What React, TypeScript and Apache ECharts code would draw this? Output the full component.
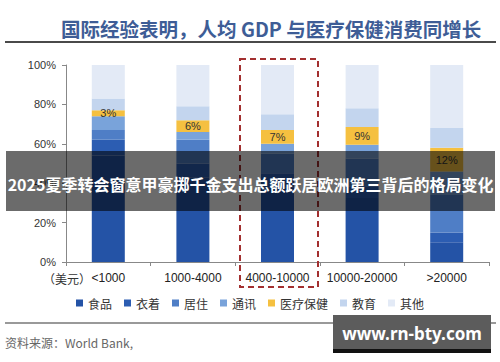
import React, { useEffect, useRef } from "react";
import * as echarts from "echarts";

const categories = ["<1000", "1000-4000", "4000-10000", "10000-20000", ">20000"];
const seriesNames = ["食品", "衣着", "居住", "通讯", "医疗保健", "教育", "其他"];
const food = [54, 43, 38, 32.5, 10];
const clothing = [8, 7, 7, 6, 5];
const housing = [5, 12, 10, 14, 19];
const telecom = [7, 4, 5, 7, 12];
const health = [3, 6, 7, 9, 12];
const education = [6, 7, 8, 9.5, 10];
const others = [17, 21, 25, 22, 32];
const yTicks = [0, 20, 40, 60, 80, 100];

const colors = ["#2453A6", "#2C5DB2", "#4F7EC6", "#79A3DA", "#F5C040", "#C3D5EE", "#E3EAF6"];

export default function App() {
  const ref = useRef<HTMLDivElement>(null);
  useEffect(() => {
    if (!ref.current) return;
    const chart = echarts.init(ref.current, null, { renderer: "svg" });
    const values = [food, clothing, housing, telecom, health, education, others];
    const cjk = "'Noto Sans CJK SC', 'Noto Sans', sans-serif";
    const latin = "'Liberation Sans', Arial, sans-serif";
    chart.setOption({
      animation: false,
      color: colors,
      title: {
        text: "国际经验表明，人均 GDP 与医疗保健消费同增长",
        left: 56,
        top: 14,
        textStyle: { fontSize: 19.5, fontWeight: "bold", color: "#3E5D96", fontFamily: cjk },
      },
      grid: { left: 66, right: 11, top: 65, bottom: 100 },
      legend: {
        data: seriesNames,
        top: 292,
        left: "center",
        icon: "rect",
        itemWidth: 7,
        itemHeight: 7,
        itemGap: 12,
        textStyle: { fontSize: 12, color: "#333", fontFamily: cjk },
      },
      xAxis: {
        type: "category",
        data: categories,
        axisLine: { lineStyle: { color: "#888", width: 1 } },
        axisTick: { show: true, length: 4, lineStyle: { color: "#888" } },
        axisLabel: { interval: 0, fontSize: 12, color: "#222", margin: 10, fontFamily: latin },
      },
      yAxis: {
        type: "value",
        min: yTicks[0],
        max: yTicks[yTicks.length - 1],
        interval: 20,
        axisLine: { show: true, lineStyle: { color: "#888", width: 1 } },
        axisTick: { show: true, length: 4, lineStyle: { color: "#888" } },
        axisLabel: { formatter: "{value}%", fontSize: 11, color: "#333", margin: 10, fontFamily: latin },
        splitLine: { show: false },
      },
      series: seriesNames.map((name, i) => ({
        name,
        type: "bar",
        stack: "total",
        barWidth: 33,
        data: values[i],
        itemStyle: { color: colors[i] },
        label:
          name === "医疗保健"
            ? {
                show: true,
                position: "inside",
                formatter: "{c}%",
                fontSize: 11,
                color: "#333",
                fontFamily: latin,
              }
            : { show: false },
      })),
      graphic: [
        { type: "line", z: 50, shape: { x1: 5, y1: 42, x2: 496, y2: 42 }, style: { stroke: "#4a4a4a", lineWidth: 2 } },
        { type: "text", z: 50, x: 43, y: 278, style: { text: "（美元）", font: "12px " + cjk, fill: "#333", verticalAlign: "middle" } },
        {
          type: "rect",
          z: 50,
          shape: { x: 240, y: 59, width: 78, height: 228 },
          style: { fill: "none", stroke: "#A33030", lineWidth: 2, lineDash: [6, 4] },
        },
        { type: "line", z: 50, shape: { x1: 5, y1: 323, x2: 496, y2: 323 }, style: { stroke: "#777", lineWidth: 1.5 } },
        { type: "text", z: 50, x: 5, y: 342, style: { text: "资料来源：World Bank,", font: "12px " + cjk, fill: "#666", verticalAlign: "middle" } },
        { type: "rect", z: 100, shape: { x: 6, y: 151, width: 489, height: 60 }, style: { fill: "rgba(0,0,0,0.58)" } },
        {
          type: "text",
          z: 101,
          x: 250.5,
          y: 184,
          style: {
            text: "2025夏季转会窗意甲豪掷千金支出总额跃居欧洲第三背后的格局变化",
            font: "bold 16px " + cjk,
            fill: "#fff",
            align: "center",
            verticalAlign: "middle",
          },
        },
        { type: "rect", z: 100, shape: { x: 333, y: 315, width: 158, height: 35 }, style: { fill: "#5c5c5c" } },
        { type: "rect", z: 100, shape: { x: 333, y: 349, width: 158, height: 4 }, style: { fill: "#111" } },
        {
          type: "text",
          z: 101,
          x: 412,
          y: 333,
          style: {
            text: "www.rn-bty.com",
            font: "bold 17px 'Noto Sans', 'Open Sans', sans-serif",
            fill: "#fff",
            align: "center",
            verticalAlign: "middle",
          },
        },
      ],
    });
    return () => chart.dispose();
  }, []);
  return (
    <div
      ref={ref}
      style={{ position: "fixed", left: 0, top: 0, width: 500, height: 362, background: "#fff" }}
    />
  );
}
